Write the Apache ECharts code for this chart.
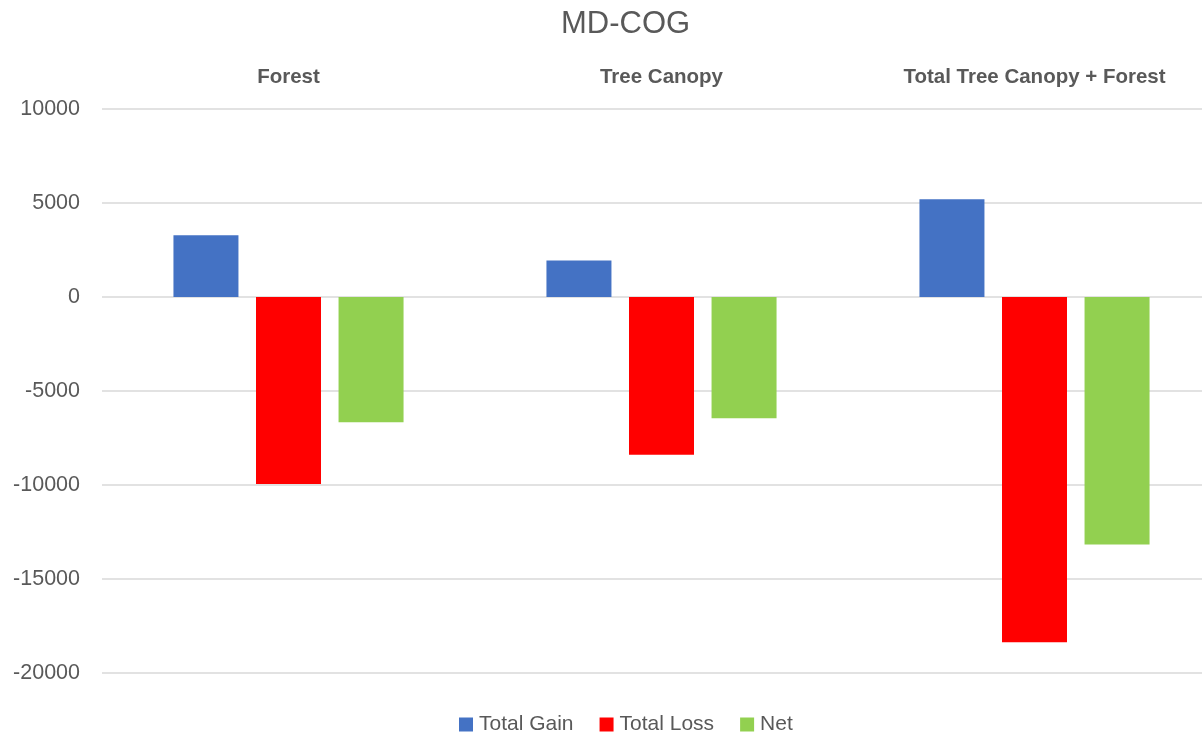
<!DOCTYPE html>
<html>
<head>
<meta charset="utf-8">
<script src="https://cdn.jsdelivr.net/npm/echarts@6/dist/echarts.min.js"></script>
<style>
  html, body { margin: 0; padding: 0; background: #fff; }
  #main { width: 1202px; height: 734px; }
</style>
</head>
<body>
<div id="main"></div>
<script>
// data
var categories = ['Forest', 'Tree Canopy', 'Total Tree Canopy + Forest'];
var totalGain = [3290, 1940, 5200];
var totalLoss = [-9950, -8390, -18370];
var net = [-6660, -6450, -13170];

var textColor = '#595959';
var fontName = 'Liberation Sans';

var myChart = echarts.init(document.getElementById('main'));

var option = {
  backgroundColor: '#fff',
  animation: false,
  textStyle: { fontFamily: fontName },
  title: {
    text: 'MD-COG',
    left: 556,
    top: 4,
    textStyle: { fontSize: 31, fontWeight: 'normal', color: textColor, fontFamily: fontName }
  },
  legend: {
    left: 459,
    top: 714,
    padding: 0,
    itemWidth: 14,
    itemHeight: 14,
    itemGap: 26,
    icon: 'rect',
    textStyle: { fontSize: 21, color: textColor, fontFamily: fontName, padding: [0, 0, 0, 1] },
    data: ['Total Gain', 'Total Loss', 'Net']
  },
  grid: {
    left: 102,
    right: -19,
    top: 109,
    bottom: 61,
    outerBoundsMode: 'none'
  },
  xAxis: {
    type: 'category',
    position: 'top',
    data: categories,
    axisLine: { show: false, onZero: false },
    axisTick: { show: false },
    splitLine: { show: false },
    axisLabel: {
      margin: 21,
      fontSize: 20.5,
      fontWeight: 'bold',
      color: textColor,
      fontFamily: fontName,
      interval: 0
    }
  },
  yAxis: {
    type: 'value',
    min: -20000,
    max: 10000,
    interval: 5000,
    axisLine: { show: false },
    axisTick: { show: false },
    axisLabel: {
      margin: 22,
      fontSize: 21.5,
      color: textColor,
      fontFamily: fontName,
      formatter: function (v) { return String(v); }
    },
    splitLine: { lineStyle: { color: '#d9d9d9', width: 1.5 } }
  },
  series: [
    { name: 'Total Gain', type: 'bar', data: totalGain, barWidth: 65, barGap: '27%', itemStyle: { color: '#4472C4' } },
    { name: 'Total Loss', type: 'bar', data: totalLoss, barWidth: 65, barGap: '27%', itemStyle: { color: '#FF0000' } },
    { name: 'Net', type: 'bar', data: net, barWidth: 65, barGap: '27%', itemStyle: { color: '#92D050' } }
  ]
};

myChart.setOption(option);
</script>
</body>
</html>
